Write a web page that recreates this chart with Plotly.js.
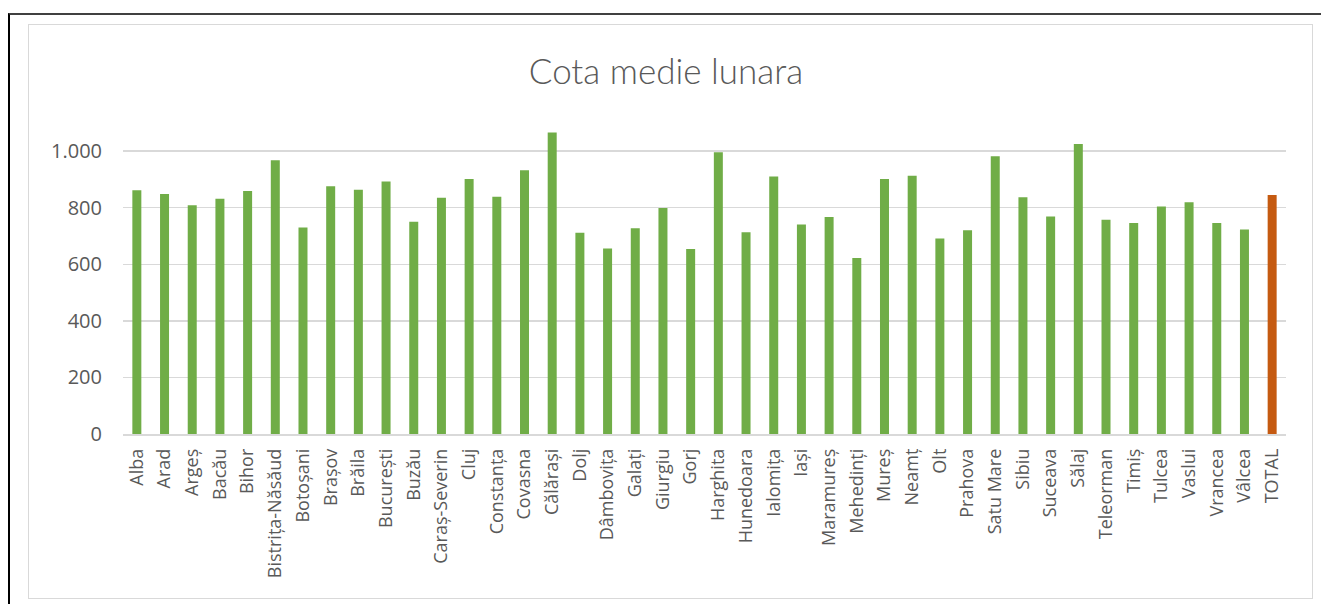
<!DOCTYPE html>
<html>
<head>
<meta charset="utf-8">
<script src="https://cdn.plot.ly/plotly-3.0.1.min.js"></script>
<style>
  html, body { margin: 0; padding: 0; background: #fff; }
  #wrap { position: relative; width: 1321px; height: 604px; overflow: hidden; }
  #chart { position: absolute; left: 0; top: 0; width: 1321px; height: 604px; }
  #outer { position: absolute; left: 8px; top: 13px; width: 1330px; height: 620px;
           border-top: 2px solid #404040; border-left: 2px solid #000; pointer-events: none; }
  #inner { position: absolute; left: 28px; top: 24px; width: 1283px; height: 573px;
           border: 1.5px solid #d9d9d9; pointer-events: none; }
</style>
</head>
<body>
<div id="wrap">
  <div id="chart"></div>
  <div id="outer"></div>
  <div id="inner"></div>
</div>
<script>
const categories = ["Alba","Arad","Argeș","Bacău","Bihor","Bistrița-Năsăud","Botoșani","Brașov","Brăila","București","Buzău","Caraș-Severin","Cluj","Constanța","Covasna","Călărași","Dolj","Dâmbovița","Galați","Giurgiu","Gorj","Harghita","Hunedoara","Ialomița","Iași","Maramureș","Mehedinți","Mureș","Neamț","Olt","Prahova","Satu Mare","Sibiu","Suceava","Sălaj","Teleorman","Timiș","Tulcea","Vaslui","Vrancea","Vâlcea","TOTAL"];
const values = [862,848,809,832,859,968,730,876,863,893,750,835,901,839,932,1066,711,656,727,799,654,996,713,910,741,767,622,901,913,691,720,982,837,769,1025,757,746,804,819,746,723,845];
const totalLabel = "TOTAL";
const yTicks = [0,200,400,600,800,1000];
const yTickText = ["0","200","400","600","800","1.000"];
const titleText = "Cota medie lunara";

const GREEN = "#70AD47", ORANGE = "#C55A11";
const colors = categories.map(c => c === totalLabel ? ORANGE : GREEN);

const trace = {
  type: "bar",
  x: categories,
  y: values,
  marker: { color: colors, line: { width: 0 } },
  hoverinfo: "x+y"
};

const layout = {
  width: 1321, height: 604,
  paper_bgcolor: "#fff", plot_bgcolor: "#fff",
  margin: { l: 123, r: 35, t: 120, b: 170, pad: 0 },
  showlegend: false,
  bargap: 0.675,
  title: {
    text: titleText,
    font: { family: "Lato, 'Open Sans', sans-serif", size: 35, color: "#595959", weight: 300 },
    x: 666/1321, xanchor: "center", xref: "container",
    y: 1 - 72/604, yanchor: "middle", yref: "container"
  },
  xaxis: {
    type: "category",
    tickangle: -90,
    tickfont: { family: "'Open Sans', sans-serif", size: 18, color: "#595959" },
    showgrid: false,
    showline: true, linecolor: "#d9d9d9", linewidth: 1.5,
    ticks: "", ticklabelstandoff: 6,
    automargin: false
  },
  yaxis: {
    range: [0, 1110],
    tickvals: yTicks, ticktext: yTickText,
    tickfont: { family: "'Open Sans', sans-serif", size: 20, color: "#595959" },
    showgrid: true, gridcolor: "#d9d9d9", gridwidth: 1.5,
    zeroline: false, showline: false,
    ticks: "", ticklabelstandoff: 20,
    automargin: false
  }
};

Plotly.newPlot("chart", [trace], layout, { staticPlot: true, displayModeBar: false });
</script>
</body>
</html>
